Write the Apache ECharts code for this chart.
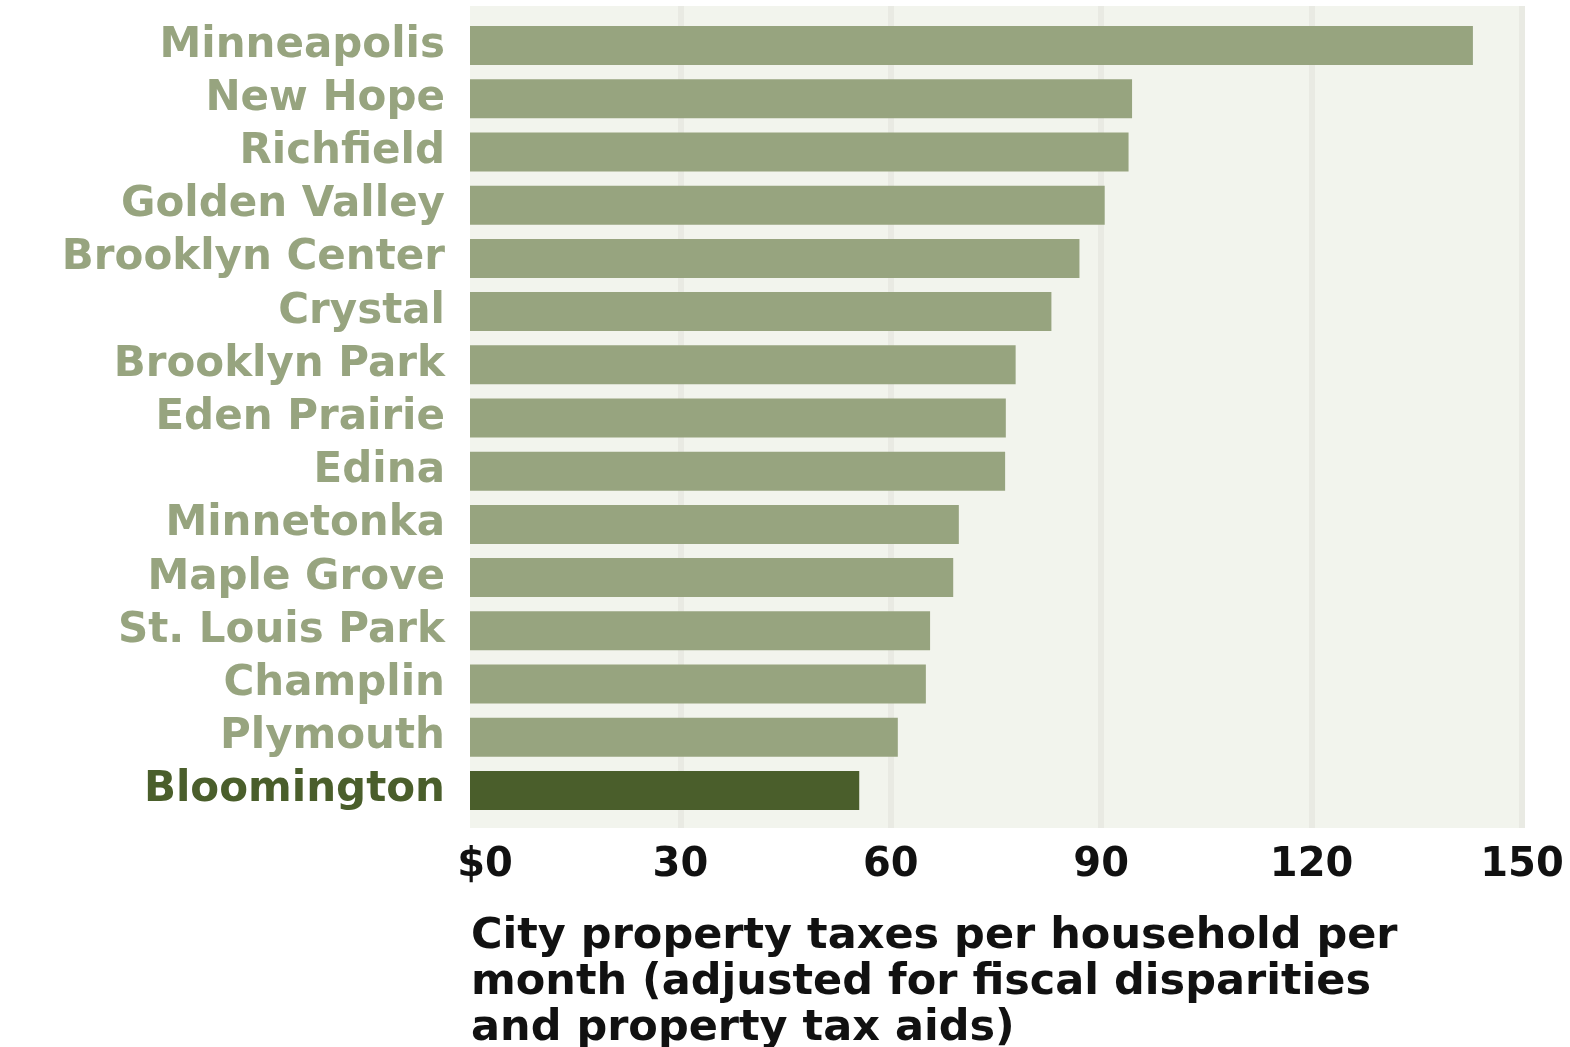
<!DOCTYPE html>
<html>
<head>
<meta charset="utf-8">
<style>
  html, body { margin: 0; padding: 0; background: #fff; }
  #chart { width: 1570px; height: 1047px; }
</style>
<script src="https://cdn.jsdelivr.net/npm/echarts@6/dist/echarts.min.js"></script>
</head>
<body>
<div id="chart"></div>
<script>
// cities, top to bottom
const CITIES = ['Minneapolis', 'New Hope', 'Richfield', 'Golden Valley', 'Brooklyn Center',
  'Crystal', 'Brooklyn Park', 'Eden Prairie', 'Edina', 'Minnetonka', 'Maple Grove',
  'St. Louis Park', 'Champlin', 'Plymouth', 'Bloomington'];
// monthly city property taxes per household ($)
const TAXES = [143.0, 94.4, 93.9, 90.5, 86.9, 82.9, 77.8, 76.4, 76.3, 69.7, 68.9, 65.6, 65.0, 61.0, 55.5];
const X_TICKS = [0, 30, 60, 90, 120, 150];
const HIGHLIGHT = 'Bloomington';
const AXIS_TITLE = 'City property taxes per household per\nmonth (adjusted for fiscal disparities\nand property tax aids)';

const LIGHT = '#97a47f';
const DARK = '#4a5e2b';

const chart = echarts.init(document.getElementById('chart'));

chart.setOption({
  animation: false,
  title: {
    text: AXIS_TITLE,
    left: 466,
    top: 909,
    textStyle: {
      fontFamily: 'DejaVu Sans',
      fontWeight: 'bold',
      fontSize: 43,
      lineHeight: 46,
      color: '#111'
    }
  },
  grid: [
    // 背景和网格线
    { left: 470, top: 6, width: 1052, height: 822, show: true, backgroundColor: '#f2f4ed', borderWidth: 0 },
    // 柱子
    { left: 470, top: 19, width: 1052, height: 798 }
  ],
  xAxis: [
    {
      gridIndex: 0,
      type: 'value',
      min: X_TICKS[0],
      max: X_TICKS[X_TICKS.length - 1],
      interval: 30,
      axisLine: { show: false },
      axisTick: { show: false },
      splitLine: { show: true, showMinLine: false, lineStyle: { color: '#e9eae3', width: 6 } },
      axisLabel: {
        margin: 18,
        fontFamily: 'DejaVu Sans',
        fontWeight: 'bold',
        fontSize: 40,
        color: '#111',
        // $0 sits a little right of the zero line
        formatter: v => (v === 0 ? '{first|$' + v + '}' : String(v)),
        rich: {
          first: {
            fontFamily: 'DejaVu Sans',
            fontWeight: 'bold',
            fontSize: 40,
            color: '#111',
            padding: [0, 0, 0, 30]
          }
        }
      }
    },
    {
      gridIndex: 1,
      type: 'value',
      min: X_TICKS[0],
      max: X_TICKS[X_TICKS.length - 1],
      show: false
    }
  ],
  yAxis: [
    { gridIndex: 0, type: 'value', show: false },
    {
      gridIndex: 1,
      type: 'category',
      data: CITIES,
      inverse: true,
      axisLine: { show: false },
      axisTick: { show: false },
      splitLine: { show: false },
      axisLabel: {
        interval: 0,
        margin: 25,
        fontFamily: 'DejaVu Sans',
        fontWeight: 'bold',
        fontSize: 42,
        color: (v) => (v === HIGHLIGHT ? DARK : LIGHT)
      }
    }
  ],
  series: [{
    type: 'bar',
    xAxisIndex: 1,
    yAxisIndex: 1,
    barWidth: 39,
    data: TAXES.map((v, i) => ({
      value: v,
      itemStyle: { color: CITIES[i] === HIGHLIGHT ? DARK : LIGHT }
    }))
  }]
});
</script>
</body>
</html>
